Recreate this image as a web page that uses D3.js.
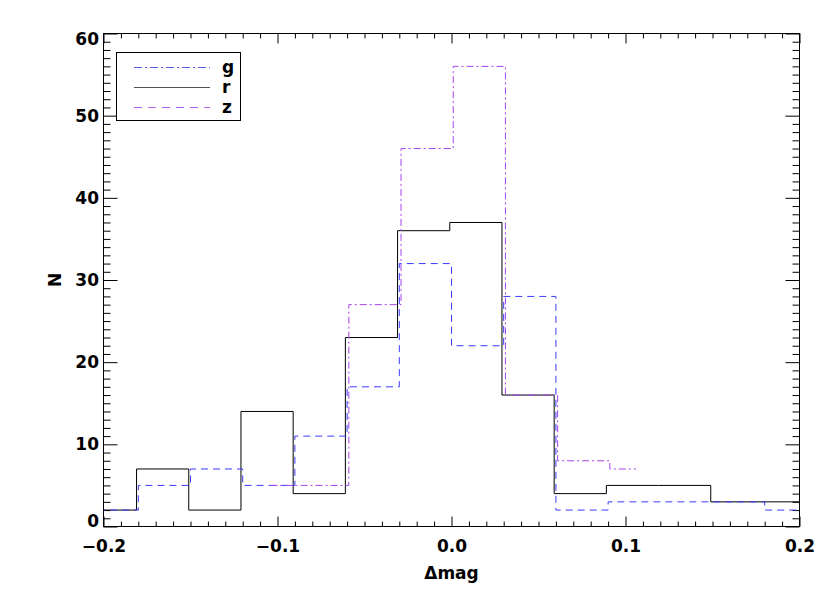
<!DOCTYPE html>
<html>
<head>
<meta charset="utf-8">
<script src="https://cdn.jsdelivr.net/npm/d3@7/dist/d3.min.js"></script>
<style>
  html, body { margin: 0; padding: 0; background: #fff; }
  svg { display: block; }
  text { font-family: "DejaVu Sans", sans-serif; font-weight: bold; fill: #000; }
</style>
</head>
<body>
<svg id="chart" width="830" height="593"></svg>
<script>
// ---- data ----
const binWidth = 0.03;
const centersFull = [-0.195, -0.165, -0.135, -0.105, -0.075, -0.045, -0.015, 0.015, 0.045, 0.075, 0.105, 0.135, 0.165, 0.195];
const rValues = [2, 7, 2, 14, 4, 23, 36, 37, 16, 4, 5, 5, 3, 3];          // black solid
const blueValues = [2, 5, 7, 5, 11, 17, 32, 22, 28, 2, 3, 3, 3, 2];      // blue dashed
const violetCenters = [-0.105, -0.075, -0.045, -0.015, 0.015, 0.045, 0.075, 0.105];
const violetValues = [5, 5, 27, 46, 56, 16, 8, 7];                        // violet dash-dot
const xMajorTicks = [-0.2, -0.1, 0.0, 0.1, 0.2];
const yMajorTicks = [0, 10, 20, 30, 40, 50, 60];
const legendLabels = ["g", "r", "z"];

// ---- layout ----
const W = 830, H = 593;
const L = 103.5, R = 799.5, T = 33.5, B = 526.5;
const svg = d3.select("#chart");

const x = d3.scaleLinear().domain([-0.2, 0.2]).range([L, R]);
const y = d3.scaleLinear().domain([0, 60]).range([B, T]);

const xMinor = d3.range(-20, 21).map(i => i / 100).filter(v => !xMajorTicks.some(m => Math.abs(m - v) < 1e-9));
const yMinor = d3.range(0, 61).filter(v => v % 10 !== 0);

function styleAxis(g) {
  g.select(".domain").remove();
  g.selectAll(".tick line").attr("stroke", "#000").attr("stroke-width", 1);
}

// bottom axis
svg.append("g").attr("transform", `translate(0,${B})`)
  .call(d3.axisBottom(x).tickValues(xMajorTicks).tickSize(-10).tickPadding(13).tickFormat(d3.format(".1f")))
  .call(styleAxis)
  .call(g => g.selectAll("text").style("font-size", "17px").style("font-family", "DejaVu Sans").style("font-weight", "bold").attr("fill", "#000"));
svg.append("g").attr("transform", `translate(0,${B})`)
  .call(d3.axisBottom(x).tickValues(xMinor).tickSize(-5).tickFormat(""))
  .call(styleAxis);
// top axis
svg.append("g").attr("transform", `translate(0,${T})`)
  .call(d3.axisTop(x).tickValues(xMajorTicks).tickSize(-10).tickFormat(""))
  .call(styleAxis);
svg.append("g").attr("transform", `translate(0,${T})`)
  .call(d3.axisTop(x).tickValues(xMinor).tickSize(-5).tickFormat(""))
  .call(styleAxis);
// left axis
svg.append("g").attr("transform", `translate(${L},0)`)
  .call(d3.axisLeft(y).tickValues(yMajorTicks).tickSize(-14).tickPadding(4.5).tickFormat(d3.format("d")))
  .call(styleAxis)
  .call(g => g.selectAll("text").style("font-size", "17px").style("font-family", "DejaVu Sans").style("font-weight", "bold").attr("fill", "#000")
    .attr("dy", d => d === 0 ? "-0.0em" : d === 60 ? "0.62em" : "0.32em"));
svg.append("g").attr("transform", `translate(${L},0)`)
  .call(d3.axisLeft(y).tickValues(yMinor).tickSize(-7).tickFormat(""))
  .call(styleAxis);
// right axis
svg.append("g").attr("transform", `translate(${R},0)`)
  .call(d3.axisRight(y).tickValues(yMajorTicks).tickSize(-14).tickFormat(""))
  .call(styleAxis);
svg.append("g").attr("transform", `translate(${R},0)`)
  .call(d3.axisRight(y).tickValues(yMinor).tickSize(-7).tickFormat(""))
  .call(styleAxis);

// frame
svg.append("rect").attr("x", L).attr("y", T).attr("width", R - L).attr("height", B - T)
  .attr("fill", "none").attr("stroke", "#000").attr("stroke-width", 1);

// clip
svg.append("clipPath").attr("id", "plotclip").append("rect")
  .attr("x", L).attr("y", T).attr("width", R - L).attr("height", B - T);

function stepPoints(centers, vals, ends, shift) {
  const pts = [];
  const n = centers.length;
  centers.forEach((c, i) => {
    let left = c - binWidth / 2, right = c + binWidth / 2;
    if (ends === "half" && i === 0) left = c;
    if (ends === "half" && i === n - 1) right = c;
    pts.push([left + shift, vals[i]], [right + shift, vals[i]]);
  });
  return pts;
}
const line = d3.line().x(d => x(d[0])).y(d => y(d[1]));
const plot = svg.append("g").attr("clip-path", "url(#plotclip)");

const series = [
  { pts: stepPoints(centersFull, rValues, "full", -0.001), color: "#000000", dash: null },
  { pts: stepPoints(centersFull, blueValues, "full", 0.0), color: "#3a3aff", dash: "7,5" },
  { pts: stepPoints(violetCenters, violetValues, "half", 0.001), color: "#a444ee", dash: "7,3,2,3" }
];
series.forEach(s => {
  plot.append("path").attr("d", line(s.pts)).attr("fill", "none")
    .attr("stroke", s.color).attr("stroke-width", 1)
    .attr("stroke-dasharray", s.dash);
});

// axis titles
svg.append("text").attr("x", (L + R) / 2).attr("y", 578.5).attr("text-anchor", "middle")
  .style("font-size", "17px").text("Δmag");
svg.append("text").attr("transform", `translate(61,${(T + B) / 2}) rotate(-90)`).attr("text-anchor", "middle")
  .style("font-size", "17px").text("N");

// legend
const leg = svg.append("g");
leg.append("rect").attr("x", 116.5).attr("y", 52.5).attr("width", 124).attr("height", 68)
  .attr("fill", "#fff").attr("stroke", "#000").attr("stroke-width", 1);
const legStyles = [
  { color: "#5a5ae8", dash: "8,3,2,3" },
  { color: "#555555", dash: null },
  { color: "#b460f0", dash: "8,6" }
];
legendLabels.forEach((lab, i) => {
  const ly = 67.5 + i * 20;
  leg.append("line").attr("x1", 134).attr("x2", 210).attr("y1", ly).attr("y2", ly)
    .attr("stroke", legStyles[i].color).attr("stroke-width", 1).attr("stroke-dasharray", legStyles[i].dash);
  leg.append("text").attr("x", 222).attr("y", ly + 5).style("font-size", "17px").text(lab);
});
</script>
</body>
</html>
